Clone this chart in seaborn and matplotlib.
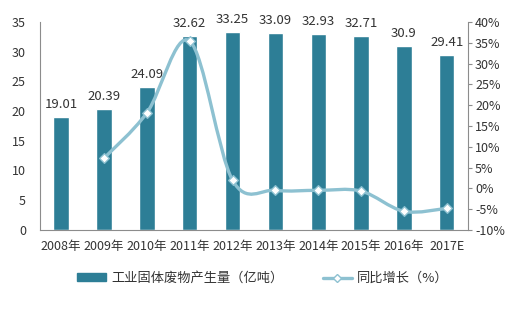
import numpy as np
import pandas as pd
import matplotlib
matplotlib.use("Agg")
import matplotlib.pyplot as plt
import seaborn as sns
from matplotlib.path import Path
from matplotlib.patches import PathPatch
from matplotlib.lines import Line2D
from matplotlib.patches import Patch

years = ["2008年", "2009年", "2010年", "2011年", "2012年", "2013年", "2014年", "2015年", "2016年", "2017E"]
output = [19.01, 20.39, 24.09, 32.62, 33.25, 33.09, 32.93, 32.71, 30.9, 29.41]
growth = [None, 7.26, 18.15, 35.41, 1.93, -0.48, -0.48, -0.67, -5.53, -4.82]

sns.set_theme(style="white")
plt.rcParams['font.family'] = ['Noto Sans CJK SC', 'DejaVu Sans']

bar_color = "#2D7E96"
line_color = "#8DC1D1"
axis_color = "#8C8C8C"
text_color = "#333333"

fig = plt.figure(figsize=(5.1, 3.18), dpi=100)
ax = fig.add_axes([0.078, 0.277, 0.840, 0.654])
df = pd.DataFrame({"year": years, "output": output})
sns.barplot(data=df, x="year", y="output", color=bar_color, width=0.36, ax=ax, saturation=1)
ax.set_ylim(0, 35)
ax.set_yticks(range(0, 36, 5))
ax.set_xlim(-0.5, len(years) - 0.5)
ax.set_xlabel("")
ax.set_ylabel("")
for i, v in enumerate(output):
    ax.text(i, v + 1.0, f"{v:g}", ha="center", va="bottom", fontsize=9.5, color=text_color)
for s in ["top", "right"]:
    ax.spines[s].set_visible(False)
for s in ["left", "bottom"]:
    ax.spines[s].set_color(axis_color)
    ax.spines[s].set_linewidth(0.8)
ax.tick_params(axis="y", length=0, labelsize=9, colors=text_color, pad=10)
ax.tick_params(axis="x", length=0, labelsize=9, colors=text_color, pad=7)

ax2 = ax.twinx()
ax2.set_ylim(-10, 40)
ax2.set_yticks(range(-10, 41, 5))
ax2.set_yticklabels([f"{t}%" for t in range(-10, 41, 5)])
for s in ["top", "left", "bottom"]:
    ax2.spines[s].set_visible(False)
ax2.spines["right"].set_color(axis_color)
ax2.spines["right"].set_linewidth(0.8)
ax2.tick_params(axis="y", length=3, width=0.8, color=axis_color, labelsize=9, labelcolor=text_color, pad=2)
ax2.grid(False)
ax.grid(False)

# smoothed line through the growth points (Catmull-Rom -> Bezier)
gx = [i for i, g in enumerate(growth) if g is not None]
gy = [g for g in growth if g is not None]
pts = np.array(list(zip(gx, gy)), dtype=float)
verts = [tuple(pts[0])]
codes = [Path.MOVETO]
t = 0.5
for k in range(len(pts) - 1):
    p0 = pts[k - 1] if k > 0 else pts[k]
    p1 = pts[k]
    p2 = pts[k + 1]
    p3 = pts[k + 2] if k + 2 < len(pts) else pts[k + 1]
    c1 = p1 + (p2 - p0) * t / 3
    c2 = p2 - (p3 - p1) * t / 3
    verts += [tuple(c1), tuple(c2), tuple(p2)]
    codes += [Path.CURVE4] * 3
ax2.add_patch(PathPatch(Path(verts, codes), fill=False, edgecolor=line_color, lw=2.4, zorder=3))
sns.scatterplot(x=gx, y=gy, marker="D", s=24, color="white", edgecolor=line_color, linewidth=1.0, ax=ax2, zorder=4)

handles = [Patch(facecolor=bar_color, edgecolor=bar_color),
           Line2D([0], [0], color=line_color, lw=2.4, marker="D", markersize=4.5,
                  markerfacecolor="white", markeredgecolor=line_color)]
fig.legend(handles, ["工业固体废物产生量（亿吨）", "同比增长（%）"], loc="center",
           bbox_to_anchor=(0.515, 0.125), ncol=2, frameon=False, fontsize=9.5,
           handlelength=2.2, handleheight=0.5, handletextpad=0.4, columnspacing=3.0,
           labelcolor=text_color)

fig.savefig("out.png", dpi=100)
